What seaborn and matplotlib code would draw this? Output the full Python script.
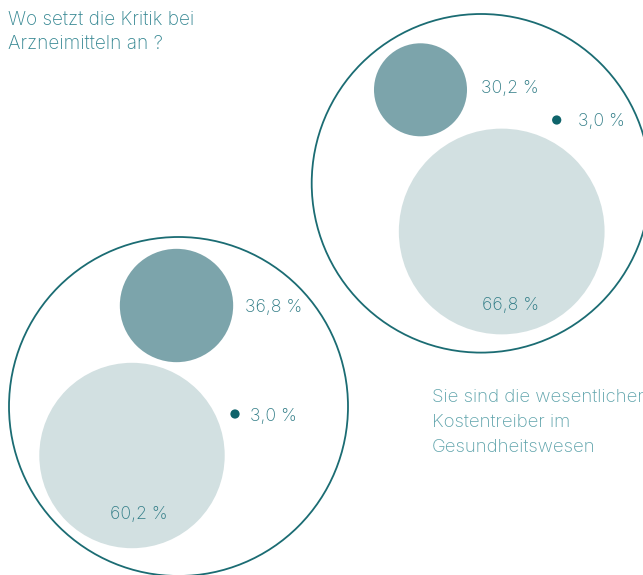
import matplotlib
matplotlib.use("Agg")
import matplotlib.pyplot as plt
from matplotlib.patches import Circle
import seaborn as sns
import pandas as pd

# --- data -----------------------------------------------------------------
title_lines = ["Wo setzt die Kritik bei", "Arzneimitteln an ?"]
note_lines = ["Sie sind die wesentlichen", "Kostentreiber im", "Gesundheitswesen"]
segments = ["Anteil A", "Anteil B", "Anteil C"]
shares_left = [36.8, 60.2, 3.0]
shares_right = [30.2, 66.8, 3.0]

# --- style ----------------------------------------------------------------
sns.set_theme(style="white")
plt.rcParams["font.family"] = ["Inter", "DejaVu Sans"]

seg_colors = dict(zip(segments, ["#7ca4ab", "#d2e0e1", "#0f646b"]))
ring_color = "#1b6c73"
label_color = "#307c86"
title_color = "#358792"
note_color = "#5ea3ab"
PX_PER_PCT = 1.54  # circle radius in pixels per percentage point
TEXT_WEIGHT = "light"

# layout of each group: outer ring and where each segment bubble sits
layout = {
    "left": dict(ring=(178.5, 406.5), ring_r=169.5,
                 centers=[(176.5, 305.5), (132.0, 455.5), (235.0, 414.0)],
                 labels=[(245, 312.3, "left"), (139, 519.0, "center"), (250.5, 421.0, "left")]),
    "right": dict(ring=(481.0, 183.3), ring_r=169.3,
                  centers=[(420.5, 89.8), (501.7, 231.5), (556.7, 120.0)],
                  labels=[(481, 93.3, "left"), (510.5, 310.0, "center"), (577.5, 125.7, "left")]),
}
shares = {"left": shares_left, "right": shares_right}

fig = plt.figure(figsize=(6.43, 5.75), dpi=100)
ax = fig.add_axes([0, 0, 1, 1])
ax.set_xlim(0, 643)
ax.set_ylim(575, 0)
ax.set_aspect("equal")
ax.axis("off")

for group, spec in layout.items():
    df = pd.DataFrame({"segment": segments, "share": shares[group]})
    cx, cy = spec["ring"]
    ax.add_patch(Circle((cx, cy), spec["ring_r"], fill=False,
                        edgecolor=ring_color, linewidth=1.3, zorder=1))
    for (seg, val), (x, y), (lx, ly, ha) in zip(df[["segment", "share"]].values,
                                                spec["centers"], spec["labels"]):
        ax.add_patch(Circle((x, y), val * PX_PER_PCT, facecolor=seg_colors[seg],
                            edgecolor="none", zorder=2))
        ax.text(lx, ly, f"{val:.1f}".replace(".", ",") + " %", ha=ha, va="baseline",
                fontsize=12.7, color=label_color, fontweight=TEXT_WEIGHT, zorder=3)

for i, line in enumerate(title_lines):
    ax.text(8, 25 + i * 23.5, line, ha="left", va="baseline",
            fontsize=13.7, color=title_color, fontweight=TEXT_WEIGHT)

for i, line in enumerate(note_lines):
    ax.text(432, 401.7 + i * 25, line, ha="left", va="baseline",
            fontsize=13.4, color=note_color, fontweight=TEXT_WEIGHT, clip_on=False)

fig.savefig("out.png", dpi=100, facecolor="white")
